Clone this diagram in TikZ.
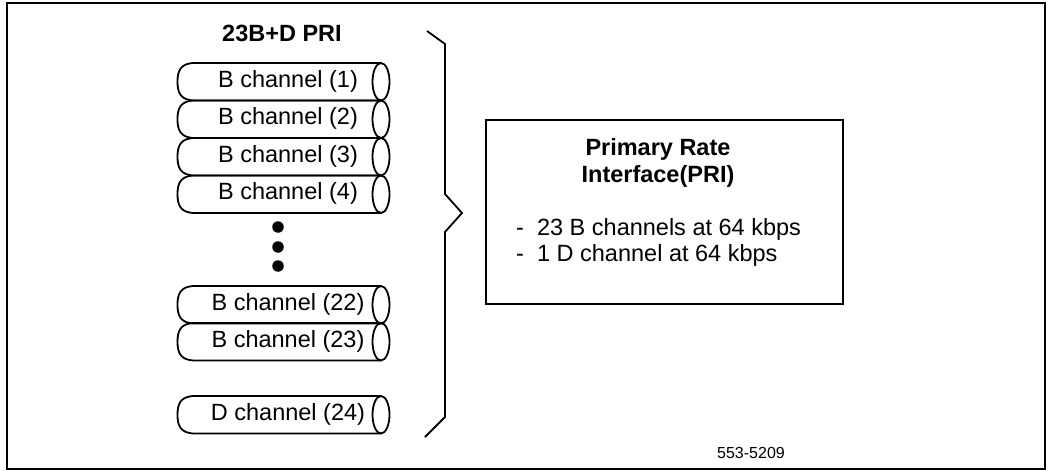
\documentclass[tikz,border=0pt]{standalone}
\usepackage{fontspec}
\setmainfont{Liberation Sans}
\begin{document}
\begin{tikzpicture}[x=1pt,y=-1pt,
  frame/.style={line width=1.8pt},
  pipe/.style={line width=1.8pt},
  brace/.style={line width=1.8pt},
  chantext/.style={anchor=base,inner sep=0pt,font=\fontsize{23.5}{28}\selectfont},
  headtext/.style={anchor=base,inner sep=0pt,font=\fontsize{23.5}{28}\selectfont\bfseries},
  bodytext/.style={anchor=base west,inner sep=0pt,font=\fontsize{23.5}{28}\selectfont},
  dot/.style={circle,fill=black,inner sep=0pt,minimum size=11.5pt}]
\useasboundingbox (0,0) rectangle (1050,471);

% outer frame
\draw[frame] (7,3) rectangle (1045,469);

% title of the channel stack
\node[headtext] (title) at (282,41) {23B+D PRI};

% one channel drawn as a pipe: #1 node name, #2 top edge, #3 label
\newcommand{\chanpipe}[3]{%
  \draw[pipe] (381,#2+37.5) -- (195,#2+37.5)
     .. controls (180,#2+37.5) and (177.5,#2+29) .. (177.5,#2+18.75)
     .. controls (177.5,#2+8.5) and (180,#2) .. (195,#2)
     -- (381,#2);
  \draw[pipe] (381,#2+18.75) ellipse[x radius=8.5,y radius=18.75];
  \node[chantext] (#1) at (288,#2+24) {#3};
}
\chanpipe{b1}{63}{B channel (1)}
\chanpipe{b2}{100.5}{B channel (2)}
\chanpipe{b3}{138}{B channel (3)}
\chanpipe{b4}{175.5}{B channel (4)}
\chanpipe{b22}{286}{B channel (22)}
\chanpipe{b23}{323}{B channel (23)}
\chanpipe{d24}{396}{D channel (24)}

% ellipsis between channel 4 and channel 22
\node[dot] (e1) at (278,227) {};
\node[dot] (e2) at (278,247) {};
\node[dot] (e3) at (278,266) {};

% large brace gathering all channels
\draw[brace] (427,31) -- (445,44) -- (445,194) -- (462,213) -- (445,232)
  -- (445,417) -- (425,437);

% description box
\node[draw,line width=2pt,minimum width=357pt,minimum height=184pt,inner sep=0pt]
  (pri) at (664.5,212) {};
\node[headtext] (pri1) at (658,155) {Primary Rate};
\node[headtext] (pri2) at (658,182) {Interface(PRI)};
\node[bodytext] (spec1) at (516,235) {\makebox[0.889em][l]{-}23 B channels at 64 kbps};
\node[bodytext] (spec2) at (516,261) {\makebox[0.889em][l]{-}1 D channel at 64 kbps};

% figure number
\node[anchor=base west,inner sep=0pt,font=\fontsize{16}{19}\selectfont] (fig) at (717,458) {553-5209};
\end{tikzpicture}
\end{document}
